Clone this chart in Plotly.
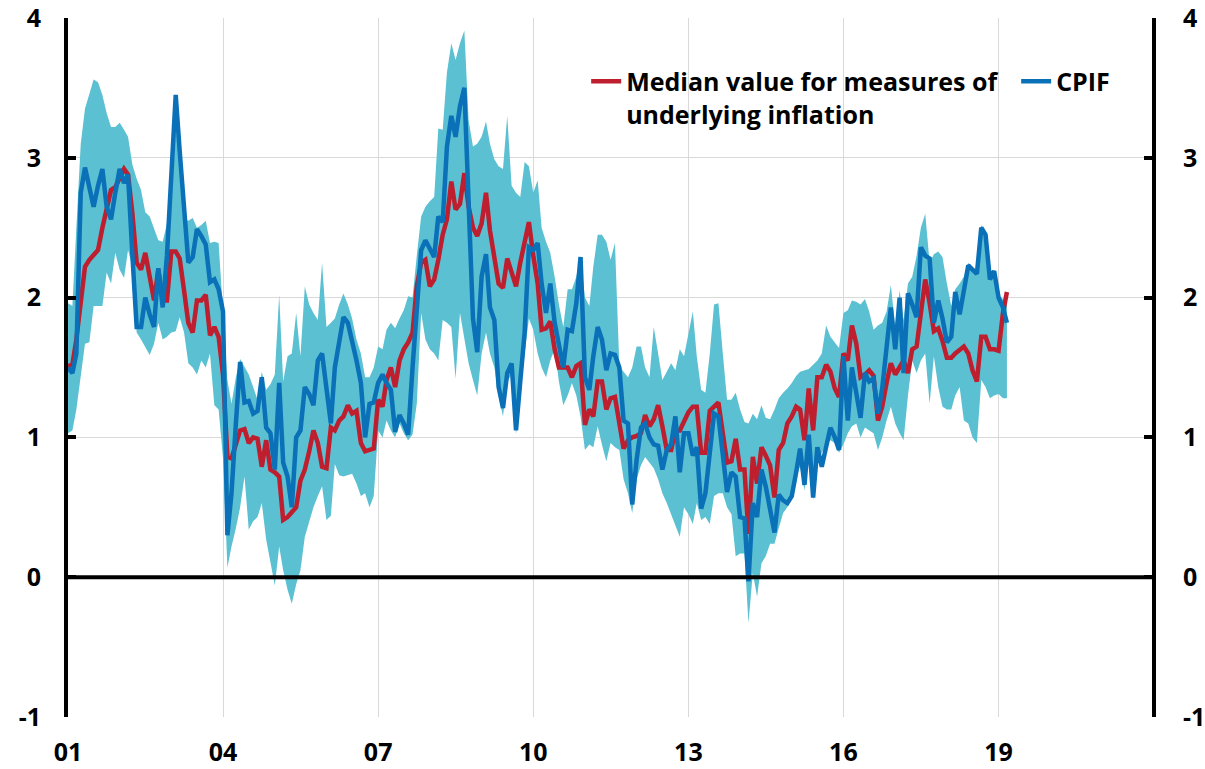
import pandas as pd
import plotly.graph_objects as go

# Monthly observations, Jan 2001 - Mar 2019
start_month = "2001-01-01"
n_months = 219

cpif = [
    1.50, 1.46, 1.60, 2.75, 2.93, 2.80, 2.65, 2.80, 2.92, 2.65, 2.56, 2.75,
    2.92, 2.82, 2.88, 2.30, 1.79, 1.79, 2.00, 1.88, 1.79, 2.21, 1.93, 2.30,
    2.90, 3.45, 3.05, 2.65, 2.25, 2.29, 2.49, 2.44, 2.38, 2.11, 2.13, 2.06,
    1.90, 0.30, 0.60, 1.10, 1.54, 1.25, 1.26, 1.17, 1.19, 1.43, 1.07, 1.03,
    0.77, 1.39, 0.82, 0.72, 0.50, 1.00, 1.05, 1.36, 1.31, 1.23, 1.55, 1.60,
    1.34, 1.10, 1.50, 1.70, 1.86, 1.82, 1.70, 1.55, 1.39, 1.00, 1.24, 1.25,
    1.39, 1.45, 1.39, 1.34, 1.04, 1.16, 1.10, 1.02, 1.50, 1.95, 2.34, 2.41,
    2.35, 2.29, 2.58, 2.54, 3.08, 3.30, 3.15, 3.37, 3.50, 2.70, 1.85, 1.61,
    2.15, 2.31, 1.93, 1.84, 1.36, 1.21, 1.46, 1.53, 1.05, 1.40, 1.75, 2.36,
    2.34, 2.39, 2.10, 1.89, 2.10, 1.82, 1.65, 1.50, 1.77, 1.76, 1.96, 2.29,
    1.43, 1.34, 1.58, 1.79, 1.70, 1.48, 1.60, 1.59, 1.50, 1.12, 1.10, 0.52,
    0.84, 1.07, 1.10, 1.00, 0.95, 0.94, 0.77, 0.91, 0.95, 1.15, 0.75, 1.03,
    1.03, 0.87, 0.93, 0.49, 0.60, 0.87, 1.17, 1.15, 0.90, 0.61, 0.75, 0.72,
    0.43, 0.42, -0.03, 0.53, 0.43, 0.77, 0.65, 0.50, 0.32, 0.59, 0.55, 0.53,
    0.58, 0.75, 0.92, 0.66, 1.02, 0.57, 0.93, 0.79, 0.95, 1.07, 1.00, 0.91,
    1.58, 1.12, 1.50, 1.32, 1.14, 1.46, 1.40, 1.42, 1.17, 1.35, 1.63, 1.93,
    1.63, 2.00, 1.46, 2.03, 1.95, 1.86, 2.36, 2.30, 2.28, 1.82, 1.98, 1.85,
    1.68, 1.72, 2.04, 1.88, 2.05, 2.23, 2.20, 2.17, 2.50, 2.45, 2.13, 2.19,
    2.00, 1.93, 1.82,
]

median = [
    1.51, 1.52, 1.70, 2.00, 2.22, 2.27, 2.30, 2.34, 2.50, 2.65, 2.77, 2.79,
    2.85, 2.92, 2.88, 2.60, 2.25, 2.20, 2.32, 2.15, 1.98, 2.20, 1.98, 1.98,
    2.33, 2.33, 2.28, 2.05, 1.82, 1.75, 1.98, 1.98, 2.02, 1.73, 1.79, 1.72,
    1.45, 0.86, 0.85, 0.95, 1.05, 1.06, 0.96, 1.00, 0.99, 0.79, 0.98, 0.77,
    0.75, 0.72, 0.41, 0.43, 0.46, 0.50, 0.69, 0.77, 0.90, 1.05, 0.96, 0.79,
    0.78, 1.07, 1.05, 1.12, 1.15, 1.23, 1.17, 1.19, 0.96, 0.90, 0.91, 0.92,
    1.27, 1.22, 1.41, 1.50, 1.36, 1.55, 1.63, 1.68, 1.75, 2.08, 2.25, 2.27,
    2.08, 2.13, 2.27, 2.45, 2.56, 2.83, 2.63, 2.67, 2.89, 2.65, 2.50, 2.44,
    2.53, 2.75, 2.48, 2.27, 2.10, 2.07, 2.28, 2.18, 2.08, 2.25, 2.40, 2.54,
    2.30, 2.10, 1.77, 1.78, 1.83, 1.63, 1.50, 1.50, 1.50, 1.43, 1.51, 1.53,
    1.09, 1.20, 1.15, 1.40, 1.40, 1.20, 1.28, 1.29, 1.10, 0.92, 0.98, 1.00,
    1.01, 1.03, 1.16, 1.08, 1.13, 1.23, 1.08, 0.91, 0.91, 1.05, 1.05, 1.12,
    1.18, 1.22, 1.22, 0.89, 0.89, 1.19, 1.22, 1.25, 1.03, 0.82, 0.83, 0.99,
    0.77, 0.77, 0.31, 0.86, 0.67, 0.93, 0.87, 0.80, 0.57, 0.91, 0.96, 1.10,
    1.15, 1.22, 1.20, 0.98, 1.35, 1.05, 1.43, 1.43, 1.52, 1.47, 1.35, 1.29,
    1.60, 1.55, 1.80, 1.67, 1.43, 1.45, 1.48, 1.44, 1.12, 1.22, 1.39, 1.53,
    1.45, 1.50, 1.55, 1.46, 1.63, 1.65, 1.89, 2.13, 1.96, 1.76, 1.78, 1.69,
    1.57, 1.57, 1.60, 1.63, 1.65, 1.60, 1.48, 1.40, 1.72, 1.72, 1.63, 1.63,
    1.62, 1.89, 2.04,
]

band_high = [
    1.96, 1.94, 2.50, 3.10, 3.35, 3.45, 3.56, 3.54, 3.45, 3.32, 3.22, 3.22,
    3.25, 3.20, 3.15, 2.95, 2.85, 2.77, 2.61, 2.58, 2.50, 2.41, 2.40, 2.53,
    2.90, 3.46, 3.00, 2.56, 2.55, 2.57, 2.50, 2.52, 2.55, 2.39, 2.40, 2.39,
    1.90, 1.41, 1.24, 1.43, 1.56, 1.50, 1.45, 1.36, 1.27, 1.47, 1.34, 1.38,
    1.45, 2.02, 1.40, 1.58, 1.60, 1.89, 1.58, 2.08, 1.95, 1.89, 1.84, 2.25,
    1.79, 1.82, 1.85, 1.95, 2.03, 1.95, 1.85, 1.70, 1.60, 1.43, 1.43, 1.50,
    1.65, 1.63, 1.77, 1.82, 1.78, 1.85, 1.91, 2.01, 2.00, 2.30, 2.58, 2.65,
    2.69, 2.72, 3.21, 3.20, 3.61, 3.82, 3.70, 3.82, 3.91, 3.27, 3.08, 3.10,
    3.15, 3.26, 3.10, 2.99, 2.94, 2.92, 3.30, 2.80, 2.75, 2.72, 2.97, 2.94,
    2.75, 2.84, 2.50, 2.40, 2.32, 2.15, 1.95, 1.79, 2.06, 2.06, 2.15, 2.29,
    2.00, 1.94, 2.22, 2.45, 2.45, 2.40, 2.27, 2.39, 1.51, 1.47, 1.43, 1.50,
    1.65, 1.65, 1.50, 1.43, 1.79, 1.60, 1.41, 1.47, 1.53, 1.48, 1.63, 1.58,
    1.75, 1.90, 1.58, 1.34, 1.32, 1.60, 1.95, 1.96, 1.60, 1.27, 1.27, 1.32,
    1.20, 1.11, 1.10, 1.17, 1.13, 1.23, 1.14, 1.13, 1.20, 1.28, 1.32, 1.35,
    1.39, 1.44, 1.47, 1.48, 1.49, 1.52, 1.55, 1.60, 1.80, 1.72, 1.68, 1.64,
    1.89, 1.91, 1.98, 1.97, 1.95, 1.99, 1.90, 1.77, 1.80, 1.82, 1.90, 2.09,
    1.79, 2.05, 1.84, 2.10, 2.15, 2.30, 2.50, 2.60, 2.25, 2.31, 2.33, 2.29,
    2.10, 1.94, 2.06, 2.10, 2.15, 2.25, 2.20, 2.20, 2.52, 2.47, 2.15, 2.20,
    2.02, 1.99, 1.95,
]

band_low = [
    1.03, 1.05, 1.20, 1.43, 1.67, 1.68, 1.94, 1.94, 1.94, 2.18, 2.10, 2.32,
    2.20, 2.14, 2.34, 2.22, 1.75, 1.70, 1.65, 1.59, 1.67, 1.82, 1.70, 1.72,
    1.75, 1.76, 1.86, 1.75, 1.53, 1.50, 1.45, 1.55, 1.50, 1.60, 1.23, 1.20,
    0.85, 0.07, 0.22, 0.35, 0.50, 0.72, 0.34, 0.40, 0.43, 0.53, 0.27, 0.10,
    -0.06, 0.22, 0.05, -0.09, -0.19, -0.05, 0.05, 0.29, 0.40, 0.50, 0.58, 0.65,
    0.41, 0.44, 0.81, 0.73, 0.72, 0.73, 0.74, 0.67, 0.58, 0.60, 0.50, 0.58,
    1.05, 1.00, 1.12, 1.05, 1.00, 1.10, 1.03, 0.98, 1.02, 1.24, 1.89, 1.70,
    1.63, 1.60, 1.55, 1.84, 1.82, 1.79, 1.42, 1.89, 1.70, 1.53, 1.41, 1.30,
    1.60, 1.75, 1.60, 1.50, 1.30, 1.15, 1.40, 1.45, 1.02, 1.35, 1.60, 1.85,
    1.77, 1.60, 1.50, 1.43, 1.55, 1.63, 1.40, 1.23, 1.30, 1.39, 1.30, 1.15,
    0.91, 0.95, 0.93, 1.08, 0.95, 0.83, 0.96, 0.93, 0.91, 0.70, 0.60, 0.46,
    0.70, 0.80, 0.86, 0.82, 0.78, 0.70, 0.60, 0.53, 0.45, 0.38, 0.29, 0.50,
    0.45, 0.38, 0.53, 0.41, 0.43, 0.38, 0.58, 0.60, 0.60, 0.50, 0.45, 0.15,
    0.17, 0.17, -0.33, 0.03, -0.14, 0.10, 0.15, 0.24, 0.24, 0.35, 0.46, 0.50,
    0.60, 0.72, 0.79, 0.62, 0.89, 0.55, 0.80, 0.89, 0.95, 0.98, 0.96, 0.89,
    0.95, 1.03, 1.08, 1.10, 1.00, 1.07, 1.05, 1.03, 0.91, 1.00, 1.12, 1.22,
    1.10, 1.03, 0.98, 1.30, 1.55, 1.46, 1.55, 1.60, 1.24, 1.58, 1.36, 1.22,
    1.20, 1.20, 1.30, 1.36, 1.12, 1.10, 1.00, 0.96, 1.41, 1.36, 1.28, 1.30,
    1.31, 1.28, 1.28,
]

y_ticks = [-1, 0, 1, 2, 3, 4]
y_tick_text = ["-1", "0", "1", "2", "3", "4"]
x_range = ["2001-01-01", "2021-12-20"]

months = pd.date_range(start_month, periods=n_months, freq="MS")

FONT = "Open Sans"
BAND = "#5bc0d1"
RED = "#be1e2d"
BLUE = "#0a70b8"

fig = go.Figure()
fig.add_trace(go.Scatter(x=months, y=band_high, mode="lines", line=dict(width=0, color=BAND),
                         showlegend=False, hoverinfo="skip"))
fig.add_trace(go.Scatter(x=months, y=band_low, mode="lines", line=dict(width=0, color=BAND),
                         fill="tonexty", fillcolor=BAND, showlegend=False, hoverinfo="skip"))
fig.add_trace(go.Scatter(x=months, y=median, mode="lines", line=dict(color=RED, width=4.5),
                         name="Median value for measures of<br>underlying inflation"))
fig.add_trace(go.Scatter(x=months, y=cpif, mode="lines", line=dict(color=BLUE, width=4.5),
                         name="CPIF", yaxis="y2"))

# zero line drawn above the shaded band
fig.add_shape(type="line", xref="paper", x0=0, x1=1, yref="y", y0=0, y1=0,
              line=dict(color="black", width=4), layer="above")

tickfont = dict(family=FONT, size=25, color="black", weight="bold")

fig.update_layout(
    width=1205, height=769,
    margin=dict(l=68, r=53, t=18, b=52, autoexpand=False),
    paper_bgcolor="white", plot_bgcolor="white",
    font=dict(family=FONT, color="black"),
    showlegend=True,
    legend=dict(orientation="h", x=0.478, y=0.942, xanchor="left", yanchor="top",
                font=dict(family=FONT, size=25, color="black", weight="bold"),
                bgcolor="rgba(0,0,0,0)", valign="top", itemwidth=30,
                traceorder="normal", entrywidth=385, entrywidthmode="pixels"),
    xaxis=dict(type="date", range=x_range, tick0="2001-01-01", dtick="M36",
               tickformat="%y", showgrid=True, gridcolor="#d9d9d9", gridwidth=1,
               showline=False, zeroline=False, ticks="", tickfont=tickfont,
               ticklabelstandoff=18, automargin=False, ticklabeloverflow="allow"),
    yaxis=dict(range=[-1, 4], tickvals=y_ticks, ticktext=y_tick_text, showgrid=True,
               gridcolor="#d9d9d9", gridwidth=1, zeroline=False,
               showline=True, linecolor="black", linewidth=4,
               ticks="inside", ticklen=8, tickwidth=4, tickcolor="black",
               tickfont=tickfont, ticklabelstandoff=18, automargin=False,
               ticklabeloverflow="allow"),
    yaxis2=dict(range=[-1, 4], tickvals=y_ticks, ticktext=y_tick_text, overlaying="y",
                side="right", anchor="x", showgrid=False, zeroline=False,
                showline=True, linecolor="black", linewidth=4,
                ticks="inside", ticklen=8, tickwidth=4, tickcolor="black",
                tickfont=tickfont, ticklabelstandoff=22, automargin=False,
                ticklabeloverflow="allow"),
)

fig.write_html("out.html", config={"displayModeBar": False},
               post_script="document.body.style.margin='0';")
